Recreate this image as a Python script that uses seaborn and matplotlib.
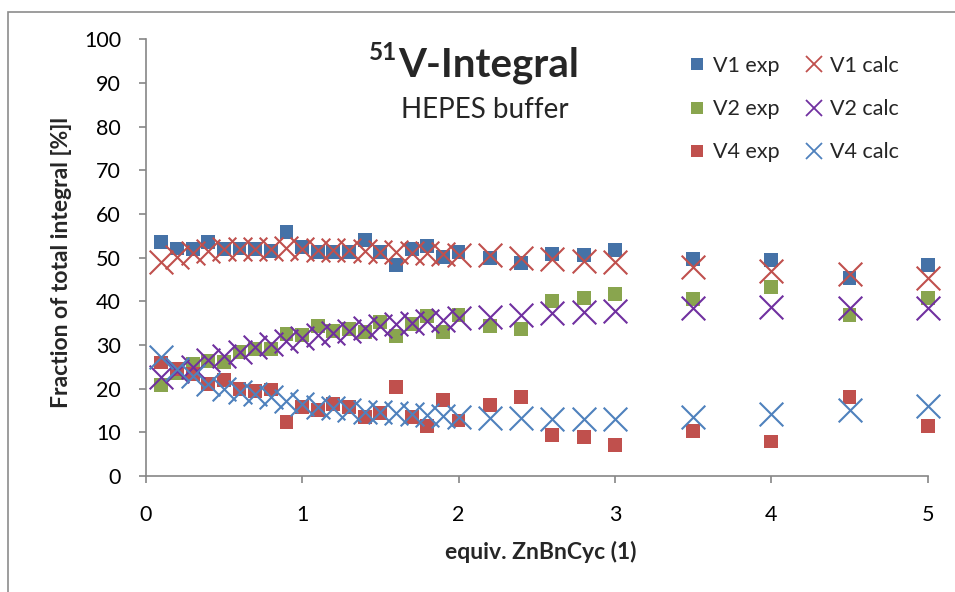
import matplotlib
matplotlib.use("Agg")
import matplotlib.pyplot as plt
from matplotlib.lines import Line2D
from matplotlib.patches import Rectangle
import seaborn as sns
import pandas as pd

equiv = [0.1, 0.2, 0.3, 0.4, 0.5, 0.6, 0.7, 0.8, 0.9, 1.0,
         1.1, 1.2, 1.3, 1.4, 1.5, 1.6, 1.7, 1.8, 1.9, 2.0,
         2.2, 2.4, 2.6, 2.8, 3.0, 3.5, 4.0, 4.5, 5.0]

v1_exp = [53.6, 52.1, 52.0, 53.6, 52.0, 52.1, 52.0, 51.5, 55.9, 52.5,
          51.2, 51.2, 51.2, 54.1, 51.2, 48.3, 52.0, 52.7, 50.2, 51.2,
          49.9, 48.8, 50.8, 50.6, 51.7, 49.7, 49.5, 45.3, 48.3]
v1_calc = [48.9, 50.2, 51.0, 51.6, 52.0, 52.0, 52.0, 52.0, 52.3, 52.0,
           51.8, 51.8, 51.8, 51.6, 51.3, 51.2, 51.1, 51.0, 50.9, 50.7,
           50.6, 49.9, 49.7, 49.3, 48.9, 47.9, 47.0, 46.2, 45.3]
v2_exp = [20.8, 23.6, 25.6, 26.4, 26.2, 28.3, 29.0, 29.0, 32.5, 32.3,
          34.3, 33.3, 33.6, 32.9, 35.2, 32.0, 34.8, 36.7, 33.0, 36.8,
          34.4, 33.6, 40.1, 40.7, 41.6, 40.5, 43.2, 36.8, 40.7]
v2_calc = [22.6, 24.0, 25.0, 26.5, 27.5, 28.5, 29.5, 30.2, 31.0, 31.5,
           32.2, 32.8, 33.3, 33.8, 34.3, 34.7, 35.1, 35.5, 35.8, 36.1,
           36.3, 36.8, 37.3, 37.6, 37.8, 38.4, 38.6, 38.4, 38.4]
v4_exp = [26.0, 24.5, 23.3, 21.0, 22.0, 19.9, 19.5, 19.8, 12.3, 15.9,
          15.2, 16.5, 15.7, 13.6, 14.4, 20.4, 13.6, 11.4, 17.5, 12.7,
          16.3, 18.1, 9.4, 9.0, 7.2, 10.3, 7.9, 18.1, 11.5]
v4_calc = [27.2, 24.5, 23.0, 21.0, 20.0, 19.3, 18.8, 18.0, 17.1, 16.5,
           15.7, 15.5, 15.2, 14.6, 14.7, 14.4, 14.2, 14.0, 13.8, 13.4,
           13.2, 13.2, 13.0, 13.0, 13.0, 13.6, 14.2, 15.1, 16.1]

series_labels = ["V1 exp", "V2 exp", "V4 exp", "V1 calc", "V2 calc", "V4 calc"]
x_ticks = [0, 1, 2, 3, 4, 5]
y_ticks = [0, 10, 20, 30, 40, 50, 60, 70, 80, 90, 100]

df = pd.DataFrame({"equiv": equiv,
                   "V1 exp": v1_exp, "V1 calc": v1_calc,
                   "V2 exp": v2_exp, "V2 calc": v2_calc,
                   "V4 exp": v4_exp, "V4 calc": v4_calc})

colors = {"V1 exp": "#4572A7", "V2 exp": "#89A54E", "V4 exp": "#C0504D",
          "V1 calc": "#C0504D", "V2 calc": "#7030A0", "V4 calc": "#4F81BD"}

sns.set_style("white")
plt.rcParams['font.family'] = ['Lato', 'DejaVu Sans']

W, H = 955, 592
fig = plt.figure(figsize=(W / 100, H / 100), dpi=100)
ax = fig.add_axes([145.7 / W, 1 - 476 / H, 782 / W, 436.7 / H])

# squares first, crosses drawn over them
for name in series_labels:
    if "exp" in name:
        sns.scatterplot(data=df, x="equiv", y=name, ax=ax, marker="s", s=100,
                        color=colors[name], edgecolor="none", linewidth=0,
                        zorder=3, clip_on=False)
    else:
        sns.scatterplot(data=df, x="equiv", y=name, ax=ax, marker="x", s=290,
                        color=colors[name], linewidth=1.5, zorder=4,
                        clip_on=False)

gray = "#868686"
ax.set_xlim(0, 5)
ax.set_ylim(0, 100)
ax.set_xticks(x_ticks)
ax.set_yticks(y_ticks)
ax.set_xticklabels([str(t) for t in x_ticks])
ax.set_yticklabels([str(t) for t in y_ticks])
sns.despine(ax=ax)
for sp in ["left", "bottom"]:
    ax.spines[sp].set_color(gray)
    ax.spines[sp].set_linewidth(1.2)
ax.tick_params(axis="both", direction="out", length=5.3, width=1.2, color=gray,
               labelsize=15.5, labelcolor="black")
ax.tick_params(axis="x", pad=15.5, bottom=True)
ax.tick_params(axis="y", pad=12.5, left=True)

ax.set_xlabel("equiv. ZnBnCyc (1)", fontsize=16.5, fontweight="bold")
ax.set_ylabel("Fraction of total integral [%]l", fontsize=16.5, fontweight="bold")
ax.xaxis.set_label_coords((541 - 145.7) / 782, -(541 - 476) / 436.7)
ax.yaxis.set_label_coords(-(145.7 - 72) / 782, 0.49)

# titles
fig.text(398 / W, 1 - 76.7 / H, "V-Integral", fontsize=29, fontweight="bold",
         ha="left", va="baseline")
fig.text(397 / W, 1 - 60 / H, "51", fontsize=17.5, fontweight="bold",
         ha="right", va="baseline")
fig.text(485 / W, 1 - 118 / H, "HEPES buffer", fontsize=20,
         ha="center", va="baseline")

# legend
handles = []
for name in series_labels:
    if "exp" in name:
        handles.append(Line2D([], [], linestyle="none", marker="s", markersize=9,
                              markerfacecolor=colors[name], markeredgewidth=0))
    else:
        handles.append(Line2D([], [], linestyle="none", marker="x", markersize=11,
                              markeredgecolor=colors[name], markeredgewidth=1.3))
fig.legend(handles, series_labels, ncol=2, loc="upper left",
           bbox_to_anchor=(688 / W, 1 - 56 / H), bbox_transform=fig.transFigure,
           frameon=False, fontsize=15.5, borderpad=0, borderaxespad=0,
           handlelength=0.8, handletextpad=0.35, columnspacing=1.2,
           labelspacing=1.08)

# outer chart border
fig.add_artist(Rectangle((8.3 / W, -0.1), 1.2, 1 - 11.7 / H + 0.1,
                         transform=fig.transFigure, fill=False,
                         edgecolor="#8c8c8c", linewidth=1.2))

fig.savefig("out.png", dpi=100)
